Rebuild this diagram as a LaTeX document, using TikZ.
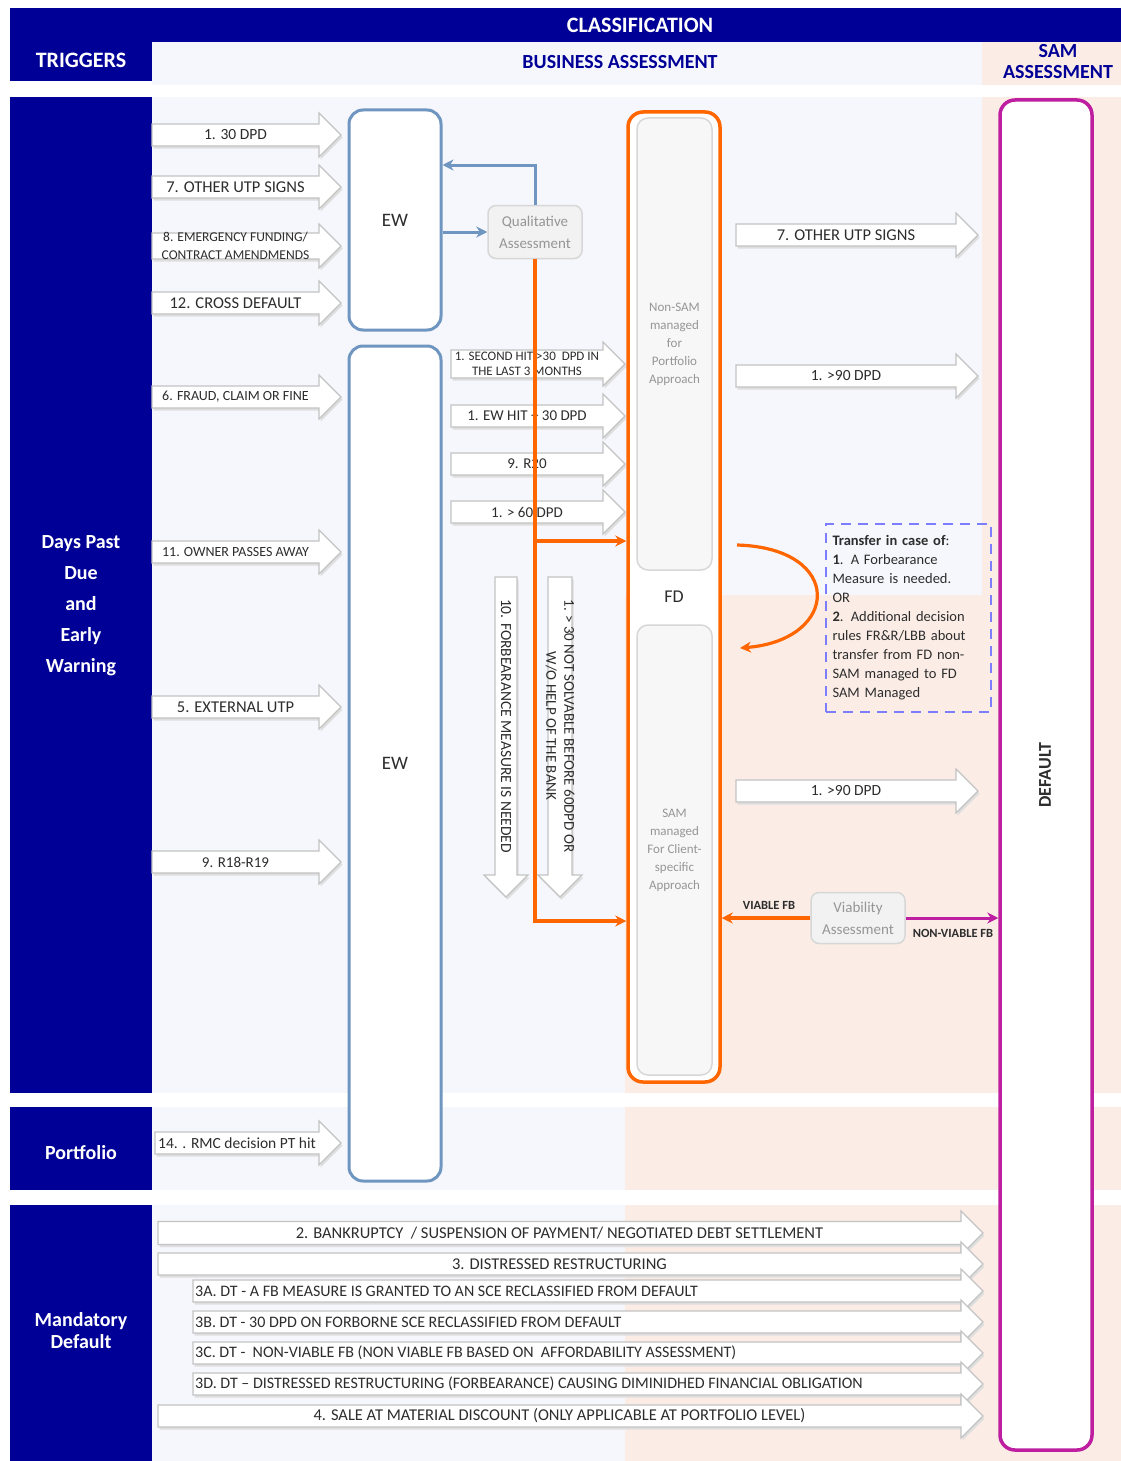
\documentclass[tikz,border=0pt]{standalone}
\usepackage{fontspec}
\setmainfont{Carlito}
\usetikzlibrary{arrows.meta,calc}

\definecolor{navy}{RGB}{0,0,150}
\definecolor{bandblue}{RGB}{245,247,252}
\definecolor{peach}{RGB}{251,237,230}
\definecolor{arrowline}{RGB}{195,195,195}
\definecolor{arrowshade}{RGB}{222,222,222}
\definecolor{labelgrey}{RGB}{45,45,45}
\definecolor{ewblue}{RGB}{110,150,192}
\definecolor{fdorange}{RGB}{255,102,0}
\definecolor{defmagenta}{RGB}{190,30,160}
\definecolor{dashblue}{RGB}{125,125,255}
\definecolor{assessfill}{RGB}{242,242,242}
\definecolor{assessline}{RGB}{215,215,215}
\definecolor{assesstext}{RGB}{150,150,150}

\newcommand\fs[2]{\fontsize{#1}{#2}\selectfont}

% horizontal block arrow: name, x-from, x-to, y, body half-height, label options, label
\newcommand\harrow[7]{%
  \begin{scope}[shift={(1.5,2.5)}]
    \fill[blkshade] (#2,#4-#5) -- (#3-22,#4-#5) -- (#3-22,#4-22) -- (#3,#4) -- (#3-22,#4+22) -- (#3-22,#4+#5) -- (#2,#4+#5) -- cycle;
  \end{scope}
  \draw[blk] (#2,#4-#5) -- (#3-22,#4-#5) -- (#3-22,#4-22) -- (#3,#4) -- (#3-22,#4+22) -- (#3-22,#4+#5) -- (#2,#4+#5) -- cycle;
  \node[lbl,#6] (#1) at ({(#2+#3-22)/2},#4) {#7};}

% same, with the label set flush left
\newcommand\harrowL[7]{%
  \begin{scope}[shift={(1.5,2.5)}]
    \fill[blkshade] (#2,#4-#5) -- (#3-22,#4-#5) -- (#3-22,#4-22) -- (#3,#4) -- (#3-22,#4+22) -- (#3-22,#4+#5) -- (#2,#4+#5) -- cycle;
  \end{scope}
  \draw[blk] (#2,#4-#5) -- (#3-22,#4-#5) -- (#3-22,#4-22) -- (#3,#4) -- (#3-22,#4+22) -- (#3-22,#4+#5) -- (#2,#4+#5) -- cycle;
  \node[lbl,anchor=west,#6] (#1) at (#2+2,#4) {#7};}

% downward block arrow: name, x, y-from, y-to, body half-width, label options, label
\newcommand\varrow[7]{%
  \begin{scope}[shift={(1.5,2.5)}]
    \fill[blkshade] (#2-#5,#3) -- (#2+#5,#3) -- (#2+#5,#4-22) -- (#2+22,#4-22) -- (#2,#4) -- (#2-22,#4-22) -- (#2-#5,#4-22) -- cycle;
  \end{scope}
  \draw[blk] (#2-#5,#3) -- (#2+#5,#3) -- (#2+#5,#4-22) -- (#2+22,#4-22) -- (#2,#4) -- (#2-22,#4-22) -- (#2-#5,#4-22) -- cycle;
  \node[lbl,rotate=-90,#6] (#1) at (#2,{(#3+#4-22)/2}) {#7};}

\begin{document}
\begin{tikzpicture}[x=1pt,y=-1pt,
  blk/.style={fill=white,draw=arrowline,line width=1.2pt},
  blkshade/.style={fill=arrowshade},
  lbl/.style={text=labelgrey,inner sep=0pt,align=center,font=\fs{16}{18}},
  hdr/.style={text=white,font=\bfseries\fs{22}{24},inner sep=0pt},
  subhdr/.style={text=navy,font=\bfseries\fs{20}{21},inner sep=0pt,align=center},
  rowhdr/.style={text=white,font=\bfseries\fs{20}{31},inner sep=0pt,align=center},
  ewbox/.style={draw=ewblue,line width=3pt,fill=white,rounded corners=14pt,
    minimum width=92pt,text=labelgrey,font=\fs{19}{20}},
  fdbox/.style={draw=fdorange,line width=3.5pt,fill=white,rounded corners=15pt,
    minimum width=92pt,text=labelgrey,font=\fs{18}{20}},
  innerbox/.style={draw=assessline,line width=1.5pt,fill=assessfill!60!white,rounded corners=11pt,
    minimum width=75pt,text=assesstext,font=\fs{13}{18},align=center},
  assess/.style={draw=assessline,line width=1.5pt,fill=assessfill,rounded corners=8pt,
    text=assesstext,font=\fs{15}{22},align=center},
  defbox/.style={draw=defmagenta,line width=3.5pt,fill=white,rounded corners=15pt},
  transfer/.style={draw=dashblue,dash pattern=on 10pt off 7pt,line width=2.5pt,
    minimum width=165pt,minimum height=188pt,text width=152pt,align=left,
    inner xsep=6pt,text=labelgrey,font=\fs{14.5}{19}},
  smallbold/.style={text=labelgrey,font=\bfseries\fs{12.5}{14},inner sep=0pt},
  barrow/.style={draw=ewblue,line width=3pt,-{Stealth[length=11pt,width=11pt]}},
  oarrow/.style={draw=fdorange,line width=3.2pt,-{Stealth[length=11pt,width=11pt]}},
  marrow/.style={draw=defmagenta,line width=3pt,-{Stealth[length=11pt,width=11pt]}}]

\useasboundingbox (0,0) rectangle (1121,1461);
\fill[white] (0,0) rectangle (1121,1461);

% ---- column and row bands
\fill[navy] (10,8) rectangle (1121,42);
\fill[navy] (10,8) rectangle (152,81);
\fill[bandblue] (152,42) rectangle (982,85);
\fill[peach] (982,42) rectangle (1121,85);

\fill[bandblue] (152,97) rectangle (982,1093);
\fill[peach] (625,595) rectangle (982,1093);
\fill[peach] (982,97) rectangle (1121,1093);
\fill[bandblue] (152,1107) rectangle (625,1190);
\fill[peach] (625,1107) rectangle (1121,1190);
\fill[bandblue] (152,1205) rectangle (625,1461);
\fill[peach] (625,1205) rectangle (1121,1461);

\fill[navy] (10,97) rectangle (152,1093);
\fill[navy] (10,1107) rectangle (152,1190);
\fill[navy] (10,1205) rectangle (152,1461);

% ---- headings
\node[hdr] (classif) at (640,25) {CLASSIFICATION};
\node[hdr] (trig) at (81,60) {TRIGGERS};
\node[subhdr] (busass) at (620,62) {BUSINESS ASSESSMENT};
\node[subhdr] (samass) at (1058,62) {SAM\\ASSESSMENT};
\node[rowhdr] (dpd) at (81,606) {Days Past\\Due\\and\\Early\\Warning};
\node[rowhdr] (port) at (81,1153) {Portfolio};
\node[rowhdr,font=\bfseries\fs{20}{22}] (mand) at (81,1331) {Mandatory\\Default};

% ---- triggers feeding early warning
\harrow{t1}{152}{341}{135}{11}{font=\fs{15.5}{18}}{1. 30 DPD}
\harrow{t7}{152}{341}{187}{11}{font=\fs{16.5}{18}}{7. OTHER UTP SIGNS}
\harrow{t8}{152}{341}{246}{13}{font=\fs{13.5}{18}}{8. EMERGENCY FUNDING/\\CONTRACT AMENDMENDS}
\harrow{t12}{152}{341}{303}{11}{font=\fs{16.5}{18}}{12. CROSS DEFAULT}
\harrow{t6}{152}{341}{397}{11}{font=\fs{14}{18}}{6. FRAUD, CLAIM OR FINE}
\harrow{t11}{152}{341}{552}{11}{font=\fs{14}{18}}{11. OWNER PASSES AWAY}
\harrow{t5}{152}{341}{707}{11}{font=\fs{16.5}{18}}{5. EXTERNAL UTP}
\harrow{t9}{152}{341}{862}{11}{font=\fs{15}{18}}{9. R18-R19}
\harrow{t14}{155}{341}{1143}{11}{font=\fs{15.5}{18}}{14. . RMC decision PT hit}

% ---- early warning boxes
\node[ewbox,minimum height=220pt] (ew1) at (395,220) {EW};
\node[ewbox,minimum height=835pt] (ew2) at (395,763.5) {EW};

% ---- qualitative assessment loop
\node[assess,minimum width=94pt,minimum height=53pt] (qa) at (535,232) {Qualitative\\Assessment};
\coordinate (qturn) at (535,165);
\draw[barrow] (qa.west -| ew1.east) -- (qa.west);
\draw[barrow] (qa.north) -- (qturn) -- (qturn -| ew1.east);

% ---- triggers from early warning to FD
\harrow{f1}{451}{625}{364}{14}{font=\fs{13}{15}}{1. SECOND HIT >30 \ DPD IN\\THE LAST 3 MONTHS}
\harrow{f2}{451}{625}{416}{11}{font=\fs{15}{18}}{1. EW HIT + 30 DPD}
\harrow{f3}{451}{625}{464}{11}{font=\fs{15}{18}}{9. R20}
\harrow{f4}{451}{625}{512}{11}{font=\fs{15}{18}}{1. > 60 DPD}

\varrow{d10}{506}{577}{897}{11}{font=\fs{15.5}{18}}{10. FORBEARANCE MEASURE IS NEEDED}
\varrow{d1}{560}{577}{897}{12}{font=\fs{15}{18}}{1. > 30 NOT SOLVABLE BEFORE 60DPD OR\\W/O HELP OF THE BANK}

\coordinate (ob1) at (535,541);
\coordinate (ob2) at (535,921);

% ---- forborne / doubtful box
\node[fdbox,minimum height=970pt] (fd) at (674,597) {FD};
\node[innerbox,minimum height=452pt] (nonsam) at (674.5,344) {Non-SAM\\managed\\for\\Portfolio\\Approach};
\node[innerbox,minimum height=450pt] (sam) at (674.5,850) {SAM\\managed\\For Client-\\specific\\Approach};

\draw[oarrow] (qa.south) -- (ob2) -- (ob2 -| fd.west);
\draw[oarrow] (ob1) -- (ob1 -| fd.west);

% ---- triggers from FD to default
\harrow{r7}{736}{978}{235}{11}{font=\fs{16.5}{18}}{7. OTHER UTP SIGNS}
\harrow{r1}{736}{978}{376}{11}{font=\fs{15.5}{18}}{1. >90 DPD}
\harrow{r2}{736}{978}{791}{11}{font=\fs{15.5}{18}}{1. >90 DPD}

% ---- transfer between FD parts
\coordinate (cs) at (737,545);
\coordinate (ce) at (740,648);
\draw[oarrow] (cs) .. controls (845,548) and (840,640) .. (ce);
\node[transfer] (tr) at (908.5,618) {\textbf{Transfer in case of}:\\\textbf{1}. A Forbearance\\Measure is needed.\\OR\\\textbf{2}. Additional decision\\rules FR\&R/LBB about\\transfer from FD non-\\SAM managed to FD\\SAM Managed};

% ---- viability assessment
\node[assess,minimum width=94pt,minimum height=51pt] (va) at (858,918) {Viability\\Assessment};
\draw[oarrow] (va.west) -- (va.west -| fd.east);
\node[smallbold] (viable) at (769,905) {VIABLE FB};
\node[smallbold] (nonviable) at (953,933) {NON-VIABLE FB};

% ---- default
\node[defbox,minimum width=92pt,minimum height=1350pt] (def) at (1046,775) {};
\node[rotate=90,text=labelgrey,font=\bfseries\fs{18}{20},inner sep=0pt] (deflabel) at (1045,775) {DEFAULT};
\draw[marrow] (va.east) -- (va.east -| def.west);

% ---- mandatory default triggers
\harrow{b2}{158}{983}{1233}{11.5}{font=\fs{16.5}{18}}{2. BANKRUPTCY \ / SUSPENSION OF PAYMENT/ NEGOTIATED DEBT SETTLEMENT}
\harrow{b3}{158}{983}{1264}{11}{font=\fs{16.5}{18}}{3. DISTRESSED RESTRUCTURING}
\harrowL{b3a}{193}{983}{1291}{11}{font=\fs{16}{18}}{3A. DT - A FB MEASURE IS GRANTED TO AN SCE RECLASSIFIED FROM DEFAULT}
\harrowL{b3b}{193}{983}{1322}{11}{font=\fs{16}{18}}{3B. DT - 30 DPD ON FORBORNE SCE RECLASSIFIED FROM DEFAULT}
\harrowL{b3c}{193}{983}{1353}{11}{font=\fs{16}{18}}{3C. DT - \ NON-VIABLE FB (NON VIABLE FB BASED ON \ AFFORDABILITY ASSESSMENT)}
\harrowL{b3d}{193}{983}{1384}{11}{font=\fs{16}{18}}{3D. DT – DISTRESSED RESTRUCTURING (FORBEARANCE) CAUSING DIMINIDHED FINANCIAL OBLIGATION}
\harrow{b4}{158}{983}{1416}{11}{font=\fs{16.5}{18}}{4. SALE AT MATERIAL DISCOUNT (ONLY APPLICABLE AT PORTFOLIO LEVEL)}

\end{tikzpicture}
\end{document}
